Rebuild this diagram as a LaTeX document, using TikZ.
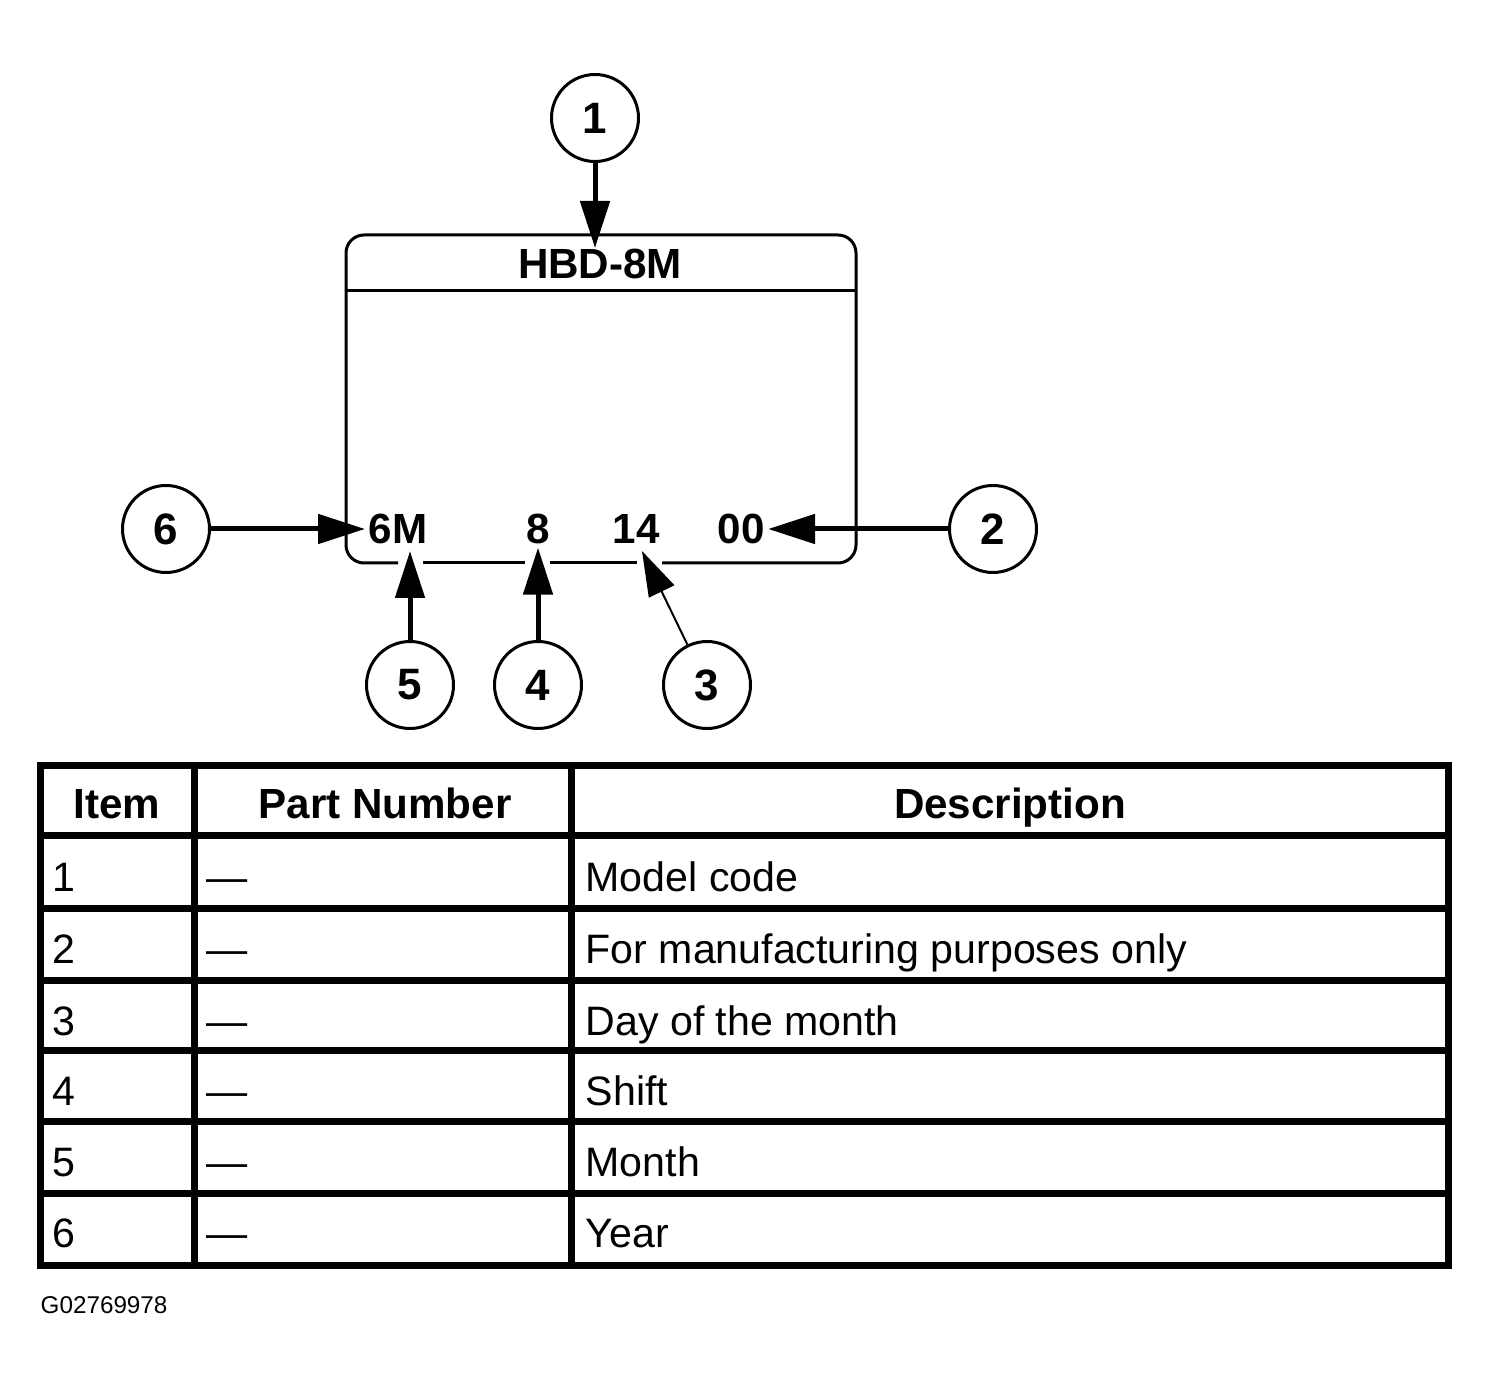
\documentclass[tikz,border=0pt]{standalone}
\usepackage{fontspec}
\setmainfont{Liberation Sans}
\usepackage{tikz}
\usetikzlibrary{arrows.meta}

\begin{document}
\begin{tikzpicture}[x=0.1mm,y=-0.1mm,
    callout/.style={circle,draw,line width=0.3mm,minimum size=8.7mm,inner sep=0pt,
      font=\fontsize{12.5}{14}\selectfont\bfseries},
    code/.style={inner sep=0.3mm,font=\fontsize{12}{14}\selectfont\bfseries},
    pointer/.style={line width=0.5mm,-{Triangle[length=4.7mm,width=2.9mm]}},
    fine pointer/.style={line width=0.2mm,-{Triangle[length=4.5mm,width=2.8mm]}},
    tagline/.style={line width=0.3mm},
    rule/.style={line width=0.7mm},
    head/.style={anchor=base,font=\fontsize{12}{14}\selectfont\bfseries},
    cell/.style={anchor=base west,inner sep=0pt,font=\fontsize{11.7}{14}\selectfont}]

  \useasboundingbox (0,0) rectangle (1488,1388);

  % tag
  \draw [tagline,rounded corners=1.8mm] (398,563) -- (346,563) -- (346,235)
        -- (856,235) -- (856,563) -- (662,563);
  \draw [tagline] (423,563) -- (525,563) (550,563) -- (637,563);
  \draw [tagline] (346,291) -- (856,291);

  \node [code] (600 264) at (600,264) {HBD-8M};
  \node [code] (398 529) at (398,529) {6M};
  \node [code] (538 529) at (538,529) {8};
  \node [code] (636 529) at (636,529) {14};
  \node [code] (741 529) at (741,529) {00};

  \node [callout] (595 118) at (595,118) {1};
  \node [callout] (993 529) at (993,529) {2};
  \node [callout] (707 685) at (707,685) {3};
  \node [callout] (538 685) at (538,685) {4};
  \node [callout] (410 685) at (410,685) {5};
  \node [callout] (166 529) at (166,529) {6};

  \coordinate (595 248) at (595,248);
  \coordinate (410 551) at (410,551);
  \coordinate (642 551) at (642,551);

  \draw [pointer]      (595 118) -- (595 248);
  \draw [pointer]      (993 529) -- (741 529.east);
  \draw [fine pointer] (707 685) -- (642 551);
  \draw [pointer]      (538 685) -- (538 529.south);
  \draw [pointer]      (410 685) -- (410 551);
  \draw [pointer]      (166 529) -- (398 529.west);

  % table
  \draw [rule] (40,766) rectangle (1448,1265);
  \draw [rule] (194,766) -- (194,1265) (571,766) -- (571,1265);
  \draw [rule] (40,836) -- (1448,836) (40,908) -- (1448,908) (40,980) -- (1448,980)
               (40,1050) -- (1448,1050) (40,1121) -- (1448,1121) (40,1193) -- (1448,1193);

  \node [head] (117 818)  at (117,818)  {Item};
  \node [head] (385 818)  at (385,818)  {Part Number};
  \node [head] (1010 818) at (1010,818) {Description};

  \node [cell] (52 891)   at (52,891)   {1};
  \node [cell] (206 891)  at (206,891)  {---};
  \node [cell] (585 891)  at (585,891)  {Model code};
  \node [cell] (52 963)   at (52,963)   {2};
  \node [cell] (206 963)  at (206,963)  {---};
  \node [cell] (585 963)  at (585,963)  {For manufacturing purposes only};
  \node [cell] (52 1035)  at (52,1035)  {3};
  \node [cell] (206 1035) at (206,1035) {---};
  \node [cell] (585 1035) at (585,1035) {Day of the month};
  \node [cell] (52 1105)  at (52,1105)  {4};
  \node [cell] (206 1105) at (206,1105) {---};
  \node [cell] (585 1105) at (585,1105) {Shift};
  \node [cell] (52 1176)  at (52,1176)  {5};
  \node [cell] (206 1176) at (206,1176) {---};
  \node [cell] (585 1176) at (585,1176) {Month};
  \node [cell] (52 1247)  at (52,1247)  {6};
  \node [cell] (206 1247) at (206,1247) {---};
  \node [cell] (585 1247) at (585,1247) {Year};

  \node [anchor=base west,inner sep=0pt,font=\fontsize{6.9}{8}\selectfont]
        (40 1313) at (40,1313) {G02769978};
\end{tikzpicture}
\end{document}
